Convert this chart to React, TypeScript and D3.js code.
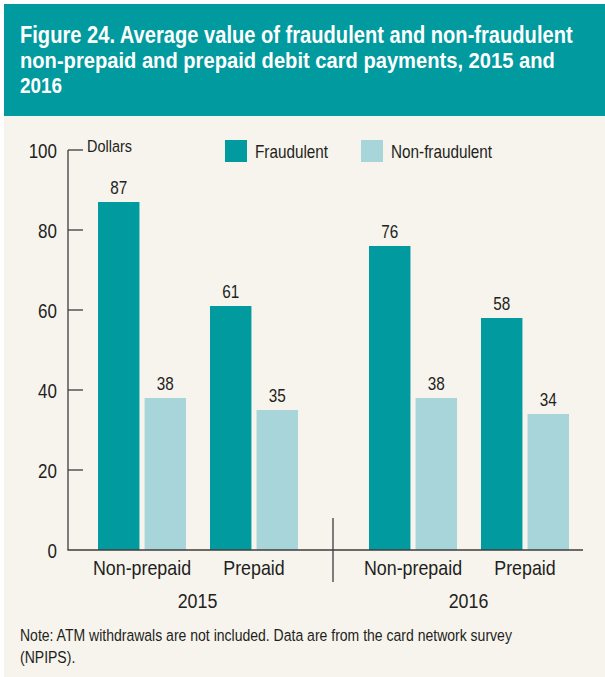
import React, {useEffect, useRef} from 'react';
import * as d3 from 'd3';

const years = ['2015', '2016'];
const cardTypes = ['Non-prepaid', 'Prepaid'];
const seriesNames = ['Fraudulent', 'Non-fraudulent'];
// values per year, per card type: [fraudulent, non-fraudulent]
const values2015 = [[87, 38], [61, 35]];
const values2016 = [[76, 38], [58, 34]];
const yTicks = [0, 20, 40, 60, 80, 100];
const titleLines = [
  'Figure 24. Average value of fraudulent and non-fraudulent',
  'non-prepaid and prepaid debit card payments, 2015 and',
  '2016',
];
const noteLines = [
  'Note: ATM withdrawals are not included. Data are from the card network survey',
  '(NPIPS).',
];

const WIDTH = 605;
const HEIGHT = 677;
const TEAL = '#009a9f';
const LIGHT = '#a7d5da';
const INK = '#231f20';
const FONT = '"Liberation Sans", Arial, sans-serif';
const SQUEEZE = 0.85; // fake a condensed face

export default function App() {
  const ref = useRef<SVGSVGElement | null>(null);

  useEffect(() => {
    const svg = d3.select(ref.current);
    svg.selectAll('*').remove();

    // text placed with a horizontal squeeze
    const label = (
      parent: any,
      x: number,
      y: number,
      txt: string | number,
      size: number,
      anchor = 'start'
    ) =>
      parent
        .append('text')
        .attr('transform', `translate(${x},${y}) scale(${SQUEEZE},1)`)
        .attr('text-anchor', anchor)
        .attr('font-family', FONT)
        .attr('font-size', size)
        .attr('fill', INK)
        .text(txt);

    svg.append('rect').attr('width', WIDTH).attr('height', HEIGHT).attr('fill', '#ffffff');
    svg.append('rect').attr('x', 4).attr('y', 4).attr('width', WIDTH - 4).attr('height', HEIGHT - 4).attr('fill', '#f7f4ee');
    svg.append('rect').attr('x', 4).attr('y', 4).attr('width', WIDTH - 4).attr('height', 112).attr('fill', TEAL);

    // title: squeeze each line to the width it has in the original
    const titleWidths = [553, 535, 42];
    svg
      .append('g')
      .selectAll('text')
      .data(titleLines)
      .enter()
      .append('text')
      .attr('fill', '#ffffff')
      .attr('font-family', FONT)
      .attr('font-weight', 'bold')
      .attr('font-size', 23)
      .text(d => d)
      .attr('transform', function (d, i) {
        const len = (this as SVGTextElement).getComputedTextLength() || titleWidths[i];
        return `translate(20,${43 + i * 25}) scale(${titleWidths[i] / len},1)`;
      });

    const y = d3.scaleLinear().domain([0, 100]).range([550, 150]);
    const xYear = d3.scaleBand().domain(years).range([62, 604]);
    const xType = d3.scaleBand().domain(cardTypes).range([36, 236]).paddingInner(0.214);
    const xSeries = d3.scaleBand().domain(seriesNames).range([0, xType.bandwidth()]).paddingInner(0.11);
    const color = d3.scaleOrdinal<string, string>().domain(seriesNames).range([TEAL, LIGHT]);

    const rows = [values2015, values2016].flatMap((byType, yi) =>
      byType.flatMap((pair, ti) =>
        pair.map((v, si) => ({year: years[yi], type: cardTypes[ti], series: seriesNames[si], value: v}))
      )
    );
    const bx = (d: any) => (xYear(d.year) as number) + (xType(d.type) as number) + (xSeries(d.series) as number);

    const chart = svg.append('g');
    chart
      .selectAll('rect.bar')
      .data(rows)
      .enter()
      .append('rect')
      .attr('class', 'bar')
      .attr('x', bx)
      .attr('y', d => y(d.value))
      .attr('width', xSeries.bandwidth())
      .attr('height', d => y(0) - y(d.value))
      .attr('fill', d => color(d.series));

    rows.forEach(d => label(chart, bx(d) + xSeries.bandwidth() / 2, y(d.value) - 8, d.value, 18, 'middle'));

    // y axis
    const axis = svg.append('g').attr('stroke', '#3d3d3d').attr('stroke-width', 1.3);
    axis.append('line').attr('x1', 68).attr('x2', 68).attr('y1', y(100)).attr('y2', y(0));
    axis
      .selectAll('line.tick')
      .data(yTicks.filter(t => t > 0))
      .enter()
      .append('line')
      .attr('class', 'tick')
      .attr('x1', 68)
      .attr('x2', 83)
      .attr('y1', d => y(d))
      .attr('y2', d => y(d));
    axis.append('line').attr('x1', 67.5).attr('x2', 583).attr('y1', y(0)).attr('y2', y(0));
    axis
      .append('line')
      .attr('x1', xYear('2016') as number)
      .attr('x2', xYear('2016') as number)
      .attr('y1', 518)
      .attr('y2', 582);

    const tickLabels = svg.append('g');
    yTicks.forEach(t => label(tickLabels, 57, y(t) + 8, t, 20, 'end'));
    label(svg, 87, 152, 'Dollars', 17);

    // category and year labels
    const axisLabels = svg.append('g');
    years.forEach(yr => {
      cardTypes.forEach(t =>
        label(axisLabels, (xYear(yr) as number) + (xType(t) as number) + xType.bandwidth() / 2, 575, t, 21, 'middle')
      );
      label(axisLabels, (xYear(yr) as number) + xYear.bandwidth() / 2, 608, yr, 21, 'middle');
    });

    // legend
    const legend = svg.append('g');
    seriesNames.forEach((s, i) => {
      const lx = 225 + i * 136;
      legend.append('rect').attr('x', lx).attr('y', 140).attr('width', 22).attr('height', 22).attr('fill', color(s));
      label(legend, lx + 30, 158, s, 18);
    });

    const note = svg.append('g');
    noteLines.forEach((line, i) => label(note, 20, 641 + i * 22, line, 16.5));
  }, []);

  return (
    <svg
      ref={ref}
      width={WIDTH}
      height={HEIGHT}
      viewBox={`0 0 ${WIDTH} ${HEIGHT}`}
      style={{position: 'absolute', left: 0, top: 0, display: 'block'}}
    />
  );
}
